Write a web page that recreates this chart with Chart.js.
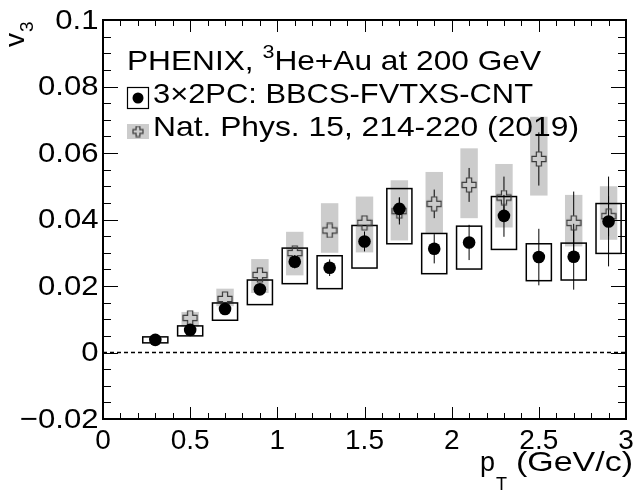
<!DOCTYPE html>
<html>
<head>
<meta charset="utf-8">
<script src="https://cdn.jsdelivr.net/npm/chart.js"></script>
<style>
  html, body { margin: 0; padding: 0; background: #fff; }
  canvas { display: block; }
</style>
</head>
<body>
<canvas id="v3Chart" width="639" height="493"></canvas>

<script>
// --- data ---
// 3x2PC: BBCS-FVTXS-CNT
const ptPC = [0.3, 0.5, 0.7, 0.9, 1.1, 1.3, 1.5, 1.7, 1.9, 2.1, 2.3, 2.5, 2.7, 2.9];
const v3PC = [0.0038, 0.0068, 0.0131, 0.0190, 0.0273, 0.0255, 0.0334, 0.0432, 0.0312, 0.0331, 0.0411, 0.0287, 0.0288, 0.0394];
const statPC = [0.0005, 0.0007, 0.0010, 0.0015, 0.0020, 0.0025, 0.0030, 0.0035, 0.0044, 0.0053, 0.0063, 0.0085, 0.0099, 0.0135];
const sysLowPC = [0.0029, 0.0050, 0.0097, 0.0144, 0.0207, 0.0192, 0.0254, 0.0327, 0.0237, 0.0251, 0.0310, 0.0216, 0.0218, 0.0298];
const sysHighPC = [0.0047, 0.0080, 0.0149, 0.0218, 0.0314, 0.0291, 0.0382, 0.0493, 0.0358, 0.0380, 0.0469, 0.0327, 0.0329, 0.0448];

// Nat. Phys. 15, 214-220 (2019)
const ptNP = [0.5, 0.7, 0.9, 1.1, 1.3, 1.5, 1.7, 1.9, 2.1, 2.3, 2.5, 2.7, 2.9];
const v3NP = [0.0104, 0.0161, 0.0233, 0.0299, 0.0367, 0.0390, 0.0425, 0.0447, 0.0504, 0.0466, 0.0582, 0.0390, 0.0410];
const statNP = [0.0005, 0.0007, 0.0010, 0.0012, 0.0015, 0.0020, 0.0040, 0.0043, 0.0051, 0.0063, 0.0080, 0.0094, 0.0060];
const sysLowNP = [0.0078, 0.0139, 0.0179, 0.0232, 0.0300, 0.0301, 0.0337, 0.0360, 0.0404, 0.0376, 0.0472, 0.0319, 0.0339];
const sysHighNP = [0.0122, 0.0192, 0.0281, 0.0363, 0.0449, 0.0469, 0.0518, 0.0543, 0.0614, 0.0567, 0.0709, 0.0474, 0.0500];

const xTickLabels = ['0', '0.5', '1', '1.5', '2', '2.5', '3'];
const yTickLabels = ['\u22120.02', '0', '0.02', '0.04', '0.06', '0.08', '0.1'];

const FONT = '"Liberation Sans", Arial, Helvetica, sans-serif';
const GREY = '#cccccc';

// open cross marker (ROOT style 28)
function makeCross(size) {
  const c = document.createElement('canvas');
  c.width = size; c.height = size;
  const g = c.getContext('2d');
  const m = size / 2, L = size / 2 - 1, a = size * 0.16;
  g.beginPath();
  g.moveTo(m - a, m - L); g.lineTo(m + a, m - L); g.lineTo(m + a, m - a);
  g.lineTo(m + L, m - a); g.lineTo(m + L, m + a); g.lineTo(m + a, m + a);
  g.lineTo(m + a, m + L); g.lineTo(m - a, m + L); g.lineTo(m - a, m + a);
  g.lineTo(m - L, m + a); g.lineTo(m - L, m - a); g.lineTo(m - a, m - a);
  g.closePath();
  g.strokeStyle = '#3a3a3a';
  g.lineWidth = 1.2;
  g.stroke();
  return c;
}
const crossImg = makeCross(16);
const crossSmall = makeCross(12);

// draws a row of text pieces [text, size, dy] squeezed/stretched to span x0..x1
function fitRow(ctx, pieces, x0, x1, baseline) {
  let w = 0;
  pieces.forEach(p => { ctx.font = p[1] + 'px ' + FONT; w += ctx.measureText(p[0]).width; });
  ctx.save();
  ctx.translate(x0, baseline);
  ctx.scale((x1 - x0) / w, 1);
  ctx.textAlign = 'left';
  ctx.textBaseline = 'alphabetic';
  let cx = 0;
  pieces.forEach(p => {
    ctx.font = p[1] + 'px ' + FONT;
    ctx.fillText(p[0], cx, p[2]);
    cx += ctx.measureText(p[0]).width;
  });
  ctx.restore();
}

const rootStyle = {
  id: 'rootStyle',
  beforeDraw(chart) {
    const ctx = chart.ctx;
    ctx.save();
    ctx.fillStyle = '#fff';
    ctx.fillRect(0, 0, chart.width, chart.height);
    ctx.restore();
  },
  beforeDatasetsDraw(chart) {
    const { ctx, chartArea: a, scales: { x, y } } = chart;
    ctx.save();

    // dashed zero line
    ctx.strokeStyle = '#000';
    ctx.lineWidth = 1.5;
    ctx.setLineDash([4, 3]);
    ctx.beginPath();
    ctx.moveTo(a.left, y.getPixelForValue(0));
    ctx.lineTo(a.right, y.getPixelForValue(0));
    ctx.stroke();
    ctx.setLineDash([]);

    // grey systematic boxes
    ctx.fillStyle = GREY;
    ptNP.forEach((p, i) => {
      const x0 = x.getPixelForValue(p - 0.05), x1 = x.getPixelForValue(p + 0.05);
      const y0 = y.getPixelForValue(sysHighNP[i]), y1 = y.getPixelForValue(sysLowNP[i]);
      ctx.fillRect(x0, y0, x1 - x0, y1 - y0);
    });

    // open systematic boxes
    ctx.strokeStyle = '#000';
    ctx.lineWidth = 1.5;
    ptPC.forEach((p, i) => {
      const x0 = x.getPixelForValue(p - 0.072), x1 = x.getPixelForValue(p + 0.072);
      const y0 = y.getPixelForValue(sysHighPC[i]), y1 = y.getPixelForValue(sysLowPC[i]);
      ctx.strokeRect(x0, y0, x1 - x0, y1 - y0);
    });

    // statistical error bars
    ctx.lineWidth = 1;
    const bars = (pts, vals, errs, gap) => {
      pts.forEach((p, i) => {
        const px = x.getPixelForValue(p);
        const yc = y.getPixelForValue(vals[i]);
        const yt = y.getPixelForValue(vals[i] + errs[i]);
        const yb = y.getPixelForValue(vals[i] - errs[i]);
        ctx.beginPath();
        if (yc - yt > gap) { ctx.moveTo(px, yt); ctx.lineTo(px, yc - gap); }
        if (yb - yc > gap) { ctx.moveTo(px, yc + gap); ctx.lineTo(px, yb); }
        ctx.stroke();
      });
    };
    bars(ptNP, v3NP, statNP, 7);
    bars(ptPC, v3PC, statPC, 5);
    ctx.restore();
  },
  afterDraw(chart) {
    const { ctx, chartArea: a, scales: { x, y } } = chart;
    ctx.save();
    ctx.strokeStyle = '#000';

    // ticks on all four sides
    ctx.lineWidth = 1;
    ctx.beginPath();
    for (let k = 0; k <= 30; k++) {
      const px = Math.round(x.getPixelForValue(k / 10)) + 0.5;
      const len = k % 5 === 0 ? 12 : 6;
      ctx.moveTo(px, a.bottom); ctx.lineTo(px, a.bottom - len);
      ctx.moveTo(px, a.top); ctx.lineTo(px, a.top + len);
    }
    for (let k = -4; k <= 20; k++) {
      const py = Math.round(y.getPixelForValue(k * 0.005)) + 0.5;
      const len = k % 4 === 0 ? 15 : 8;
      ctx.moveTo(a.left, py); ctx.lineTo(a.left + len, py);
      ctx.moveTo(a.right, py); ctx.lineTo(a.right - len, py);
    }
    ctx.stroke();

    // frame
    ctx.lineWidth = 2;
    ctx.strokeRect(a.left, a.top, a.right - a.left, a.bottom - a.top);

    ctx.fillStyle = '#000';

    // y tick labels, taken from the scale's own ticks (slightly wide face)
    ctx.font = '28px ' + FONT;
    ctx.textAlign = 'right';
    ctx.textBaseline = 'middle';
    y.ticks.forEach(t => {
      const label = yTickLabels[Math.round((t.value + 0.02) / 0.02)];
      ctx.save();
      ctx.translate(a.left - 4.5, y.getPixelForValue(t.value) + 1);
      ctx.scale(1.11, 1);
      ctx.fillText(label, 0, 0);
      ctx.restore();
    });

    // x title: p_T (GeV/c)
    ctx.textBaseline = 'alphabetic';
    fitRow(ctx, [['(GeV/c)', 28, 0]], 516, 633, 471);
    fitRow(ctx, [['p', 28, 0]], 480, 495, 471);
    fitRow(ctx, [['T', 19, 0]], 496, 507, 490);

    // y title: v_3 (rotated)
    ctx.save();
    ctx.translate(24, 47);
    ctx.rotate(-Math.PI / 2);
    ctx.textAlign = 'left';
    ctx.font = '28px ' + FONT;
    ctx.fillText('v', 0, 0);
    ctx.font = '19px ' + FONT;
    ctx.fillText('3', 15, 9);
    ctx.restore();

    // legend
    fitRow(ctx, [['PHENIX, ', 28, 0], ['3', 19, -12], ['He+Au at 200 GeV', 28, 0]], 127, 541, 70);

    ctx.lineWidth = 1.2;
    ctx.strokeRect(127.5, 87.5, 21, 21);
    ctx.beginPath();
    ctx.arc(138, 98, 5.5, 0, Math.PI * 2);
    ctx.fill();
    fitRow(ctx, [['3\u00d72PC: BBCS-FVTXS-CNT', 28, 0]], 153, 533, 103);

    ctx.fillStyle = GREY;
    ctx.fillRect(127, 124, 22, 15);
    ctx.drawImage(crossSmall, 132, 125.5);
    ctx.fillStyle = '#000';
    fitRow(ctx, [['Nat. Phys. 15, 214-220 (2019)', 28, 0]], 153, 579, 136);
    ctx.restore();
  }
};

const ctx = document.getElementById('v3Chart').getContext('2d');
new Chart(ctx, {
  type: 'scatter',
  data: {
    datasets: [
      {
        label: '3\u00d72PC: BBCS-FVTXS-CNT',
        data: ptPC.map((p, i) => ({ x: p, y: v3PC[i] })),
        pointStyle: 'circle',
        pointRadius: 6.3,
        backgroundColor: '#000',
        borderColor: '#000',
        borderWidth: 0
      },
      {
        label: 'Nat. Phys. 15, 214-220 (2019)',
        data: ptNP.map((p, i) => ({ x: p, y: v3NP[i] })),
        pointStyle: crossImg,
        pointRadius: 8
      }
    ]
  },
  options: {
    responsive: false,
    animation: false,
    events: [],
    layout: { padding: { top: 20, right: 13, left: 0, bottom: 0 } },
    scales: {
      x: {
        type: 'linear',
        min: 0,
        max: 3,
        grid: { display: false, drawTicks: false },
        border: { display: false },
        ticks: {
          stepSize: 0.5,
          padding: 5,
          color: '#000',
          font: { family: FONT, size: 28 },
          maxRotation: 0,
          callback: (v) => xTickLabels[Math.round(v / 0.5)]
        },
        afterFit: (s) => { s.height = 74; }
      },
      y: {
        type: 'linear',
        min: -0.02,
        max: 0.1,
        grid: { display: false, drawTicks: false },
        border: { display: false },
        ticks: {
          display: false,
          stepSize: 0.02
        },
        afterFit: (s) => { s.width = 103; }
      }
    },
    plugins: {
      legend: { display: false },
      tooltip: { enabled: false }
    }
  },
  plugins: [rootStyle]
});
</script>
</body>
</html>
